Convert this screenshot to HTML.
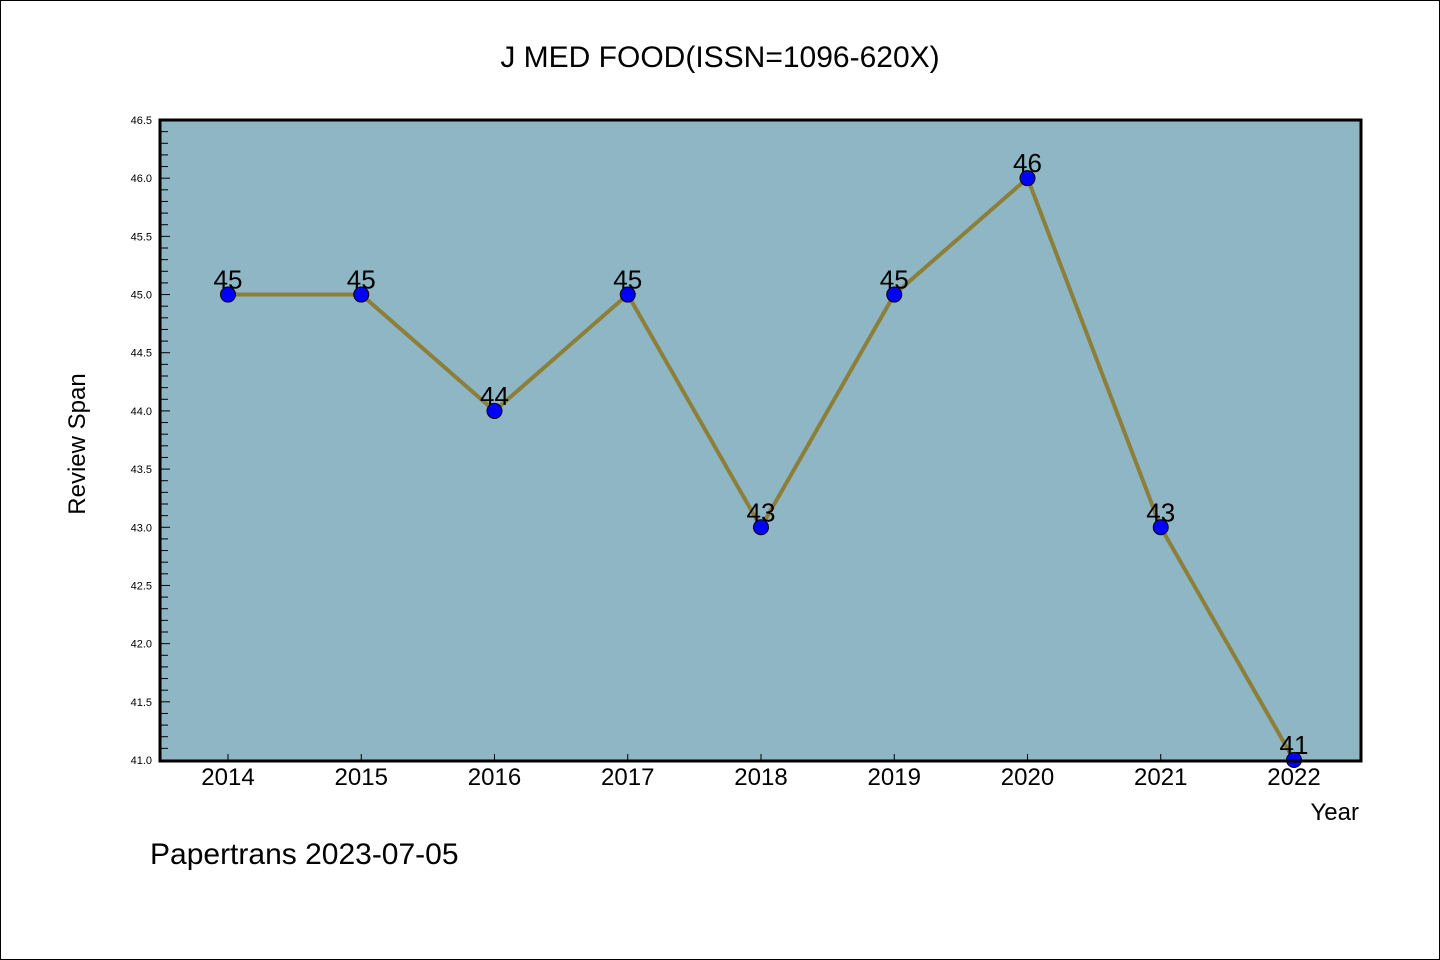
<!DOCTYPE html>
<html><head><meta charset="utf-8"><style>
html,body{margin:0;padding:0;background:#fff}
svg{display:block}
text{font-family:"Liberation Sans","WenQuanYi Zen Hei",sans-serif}
</style></head><body>
<svg id="c" width="1440" height="960" xmlns="http://www.w3.org/2000/svg">
<rect x="0.5" y="0.5" width="1439" height="959" fill="#fff" stroke="#000"/>
<text x="720" y="67" font-size="30" text-anchor="middle">J MED FOOD(ISSN=1096-620X)</text>
<rect x="160" y="120" width="1201" height="641" fill="#8fb6c4"/>
<g id="g"></g>
<rect x="160" y="120" width="1201" height="641" fill="none" stroke="#000" stroke-width="3"/>
<text x="85" y="444" font-size="24" text-anchor="middle" transform="rotate(-90 85 444)">Review Span</text>
<text x="1359" y="820" font-size="24" text-anchor="end">Year</text>
<text x="150" y="864" font-size="30">Papertrans 2023-07-05</text>
</svg>
<script>
const years=[2014,2015,2016,2017,2018,2019,2020,2021,2022];
const values=[45,45,44,45,43,45,46,43,41];
const yTicks=[41.0,41.5,42.0,42.5,43.0,43.5,44.0,44.5,45.0,45.5,46.0,46.5];
const NS="http://www.w3.org/2000/svg";
const g=document.getElementById('g');
const X=i=>228+i*133.25;
const Y=v=>760-(v-41)/(46.5-41)*640;
function mk(t,a){const e=document.createElementNS(NS,t);for(const k in a)e.setAttribute(k,a[k]);g.appendChild(e);return e;}
// minor y ticks
for(let k=0;k<=55;k++){const v=41+k*0.1;const y=Y(v);const major=k%5===0;
const t=mk('line',{x1:160,x2:major?170:168,y1:y,y2:y,stroke:'#000','stroke-width':1});

}
yTicks.forEach(v=>{const t=mk('text',{x:152,y:Y(v)+4,'font-size':11,'text-anchor':'end'});t.textContent=v.toFixed(1);

});
years.forEach((yr,i)=>{const l=mk('line',{x1:X(i),x2:X(i),y1:760,y2:754,stroke:'#000'});


const t=mk('text',{x:X(i),y:785,'font-size':24,'text-anchor':'middle'});t.textContent=yr;

});
const p=mk('polyline',{points:values.map((v,i)=>X(i)+','+Y(v)).join(' '),fill:'none',stroke:'#8c7f3a','stroke-width':4});


values.forEach((v,i)=>{const c=mk('circle',{cx:X(i),cy:Y(v),r:7.5,fill:'#0000ff',stroke:'#000','stroke-width':1});


const t=mk('text',{x:X(i),y:Y(v)-6,'font-size':26,'text-anchor':'middle'});t.textContent=v;

});
</script>
</body></html>
